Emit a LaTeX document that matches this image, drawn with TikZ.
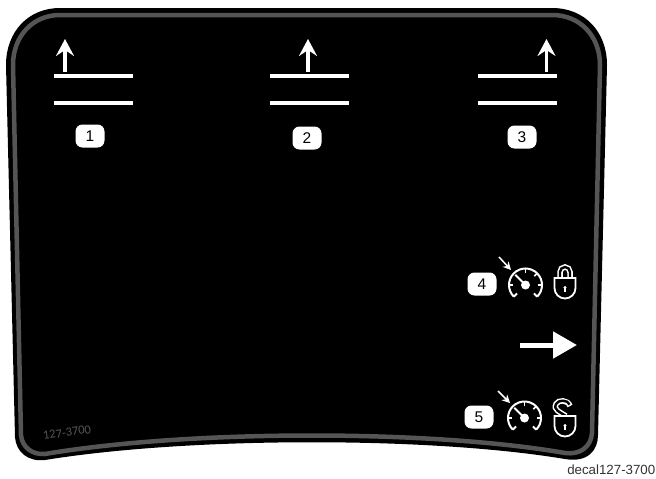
\documentclass[tikz,border=0pt]{standalone}
\usepackage{fontspec}
\setmainfont{Liberation Sans}
\newfontfamily\decalfont{Carlito}
\usetikzlibrary{arrows.meta}
\definecolor{rimgray}{RGB}{85,85,85}
\definecolor{codegray}{RGB}{85,85,85}
\tikzset{
    bar/.style={draw=white, line width=4pt},
    uparrow/.style={draw=white, line width=3.5pt, -{Stealth[length=17pt, width=18pt, inset=6pt]}},
    badge/.style={fill=white, rounded corners=7pt, minimum width=29pt, minimum height=23pt, inner sep=0pt, font=\fontsize{15.5}{15.5}\selectfont, text=black},
    pointer/.style={draw=white, line width=1.5pt, -{Stealth[length=8pt, width=8pt]}},
    gauge/.pic={
        \draw[white, line width=2pt] (225:16.5pt) arc[start angle=225, end angle=-45, radius=16.5pt];
        \fill[white] (0,0) circle (4.5pt);
        \draw[white, line width=2pt] (0,0) -- (135:14.5pt);
        \foreach \a in {0,45,90,180} {\draw[white, line width=1.6pt] (\a:16.5pt) -- (\a:12.5pt);}
        \draw[white, line width=1.8pt] (-45:16.5pt) -- (-45:12pt);
        \draw[white, line width=1.8pt] (225:16.5pt) -- (225:12pt);
    },
    lockbody/.pic={
        \draw[white, fill=black, line width=1.8pt] (-10.5pt,0) -- (10.5pt,0) -- (10.5pt,-10pt) arc[start angle=0, end angle=-90, radius=10.5pt] -- (0,-20.5pt) arc[start angle=-90, end angle=-180, radius=10.5pt] -- cycle;
        \fill[white] (0,-9.5pt) circle (1.7pt);
        \draw[white, line width=1.4pt] (0,-9.5pt) -- (0,-14pt);
    },
    closedlock/.pic={
        \draw[white, line width=5.5pt] (-5pt,0) -- (-5pt,6pt) arc[start angle=180, end angle=0, radius=5pt] -- (5pt,0);
        \draw[black, line width=2.4pt] (-5pt,0) -- (-5pt,6pt) arc[start angle=180, end angle=0, radius=5pt] -- (5pt,0);
        \pic at (0,0) {lockbody};
    },
    openlock/.pic={
        \draw[white, line width=5.5pt] (1pt,0) .. controls (-5pt,4pt) and (-12pt,6pt) .. (-9pt,12pt) .. controls (-7pt,16.5pt) and (3pt,16.5pt) .. (5pt,10pt);
        \draw[black, line width=2.4pt, shorten >=1.5pt] (1pt,0) .. controls (-5pt,4pt) and (-12pt,6pt) .. (-9pt,12pt) .. controls (-7pt,16.5pt) and (3pt,16.5pt) .. (5pt,10pt);
        \pic at (0,0) {lockbody};
    }
}
\begin{document}
\begin{tikzpicture}[x=1pt, y=-1pt]
    \useasboundingbox (0,0) rectangle (656,479);
    \fill[white] (0,0) rectangle (656,479);

    % plate and rim
    \fill[black] (60,8) -- (552,8) .. controls (585,8) and (607,32) .. (607,65) -- (598,435)
        .. controls (598,450) and (588,463) .. (565,459) .. controls (430,436.5) and (190,436.5) .. (45,460)
        .. controls (28,462) and (16,452) .. (15,437) -- (6,65) .. controls (6,32) and (28,8) .. (60,8) -- cycle;
    \draw[rimgray, line width=4.5pt] (60,15) -- (552,15) .. controls (580,15) and (600,36) .. (600,65) -- (592,433)
        .. controls (591,447) and (580,455) .. (565,453) .. controls (430,429.5) and (190,429.5) .. (45,454)
        .. controls (32,455) and (22,447) .. (21,435) -- (13,65) .. controls (13,36) and (33,15) .. (60,15) -- cycle;

    % first column
    \coordinate (A1) at (54,76);
    \coordinate (A2) at (133,76);
    \coordinate (A3) at (54,103);
    \coordinate (A4) at (133,103);
    \coordinate (A5) at (65,72);
    \coordinate (A6) at (65,39);
    \path[bar] (A1) edge (A2);
    \path[bar] (A3) edge (A4);
    \draw[uparrow] (A5) -- (A6);
    \node[badge] (one) at (90,136) {1};

    % second column
    \coordinate (B1) at (270,76);
    \coordinate (B2) at (349,76);
    \coordinate (B3) at (270,103);
    \coordinate (B4) at (349,103);
    \coordinate (B5) at (308,72);
    \coordinate (B6) at (308,39);
    \path[bar] (B1) edge (B2);
    \path[bar] (B3) edge (B4);
    \draw[uparrow] (B5) -- (B6);
    \node[badge] (two) at (307,138) {2};

    % third column
    \coordinate (C1) at (478,76);
    \coordinate (C2) at (557,76);
    \coordinate (C3) at (478,103);
    \coordinate (C4) at (557,103);
    \coordinate (C5) at (546.5,72);
    \coordinate (C6) at (546.5,39);
    \path[bar] (C1) edge (C2);
    \path[bar] (C3) edge (C4);
    \draw[uparrow] (C5) -- (C6);
    \node[badge] (three) at (522,137) {3};

    % lower right symbols
    \node[badge] (four) at (482,284) {4};
    \pic at (525.5,285) {gauge};
    \coordinate (D1) at (499,257);
    \coordinate (D2) at (511,270);
    \draw[pointer] (D1) -- (D2);
    \pic at (565,278) {closedlock};

    \coordinate (E1) at (520,345);
    \coordinate (E2) at (577,345);
    \draw[draw=white, line width=5pt, -{Triangle[length=24pt, width=26pt]}] (E1) -- (E2);

    \node[badge] (five) at (479,417) {5};
    \pic at (524.5,418) {gauge};
    \coordinate (F1) at (498,391);
    \coordinate (F2) at (510,403);
    \draw[pointer] (F1) -- (F2);
    \pic at (565,416) {openlock};

    \node[text=codegray, rotate=8, inner sep=0pt, font=\decalfont\fontsize{12.5}{12.5}\selectfont] (code) at (67,432.5) {127-3700};
    \node[text=black!80, inner sep=0pt, font=\fontsize{13.3}{13.3}\selectfont, anchor=east] (decal) at (655.5,470) {decal127-3700};
\end{tikzpicture}
\end{document}
